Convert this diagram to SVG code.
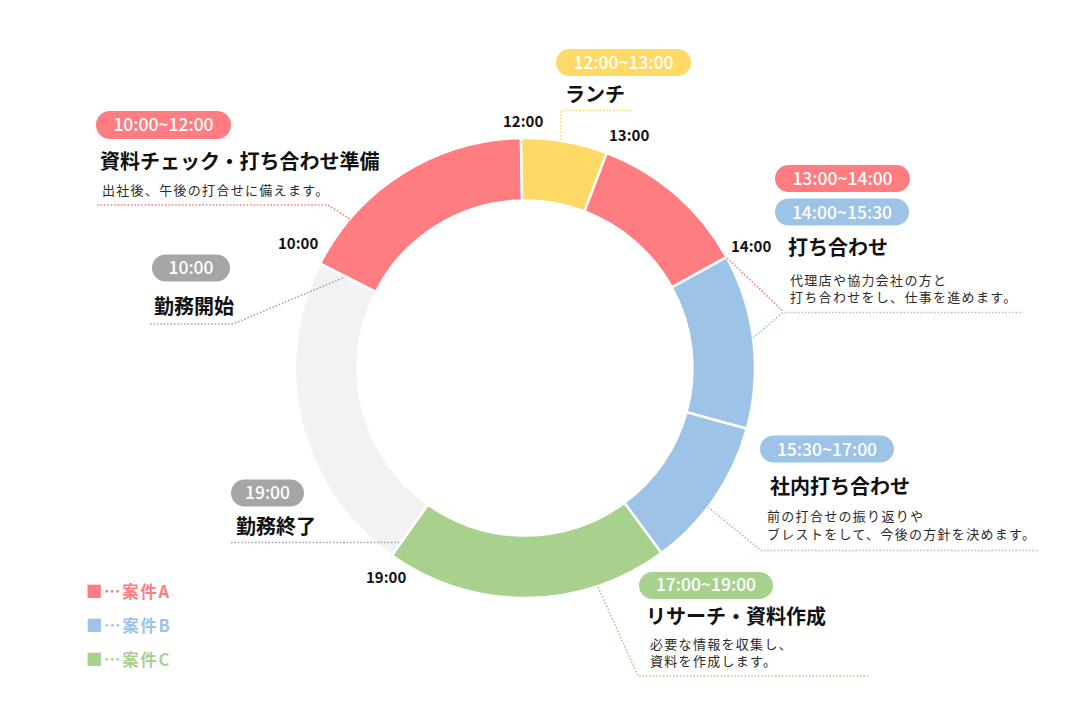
<svg xmlns="http://www.w3.org/2000/svg" width="1082" height="720" viewBox="0 0 1082 720">
<style>
text{font-family:"Noto Sans CJK JP","Noto Sans",sans-serif}
.seg{stroke:#fff;stroke-width:2.5;stroke-linejoin:miter}
.pt{fill:#fff;font-size:17.5px;font-weight:500;text-anchor:middle}
.ttl{fill:#111;font-size:20px;font-weight:700}
.sub{fill:#2b2b2b;font-size:13px;font-weight:400;letter-spacing:1.3px}
.tm{fill:#111;font-size:15px;font-weight:700}
.dl{fill:none;stroke-width:1.6;stroke-dasharray:1.6 1.8}
.lg{font-size:16.5px;font-weight:700;letter-spacing:1.6px}
</style>
<rect width="1082" height="720" fill="#fff"/>
<g id="donut">
<path id="seg-10-12" class="seg" fill="#FF7C80" d="M320.07,263.58 A230,230 0 0 1 520.99,138.03 L522.08,200.53 A167.5,167.5 0 0 0 375.76,291.95 Z"/>
<path id="seg-12-13" class="seg" fill="#FFD966" d="M520.99,138.03 A230,230 0 0 1 606.67,153 L584.48,211.42 A167.5,167.5 0 0 0 522.08,200.53 Z"/>
<path id="seg-13-14" class="seg" fill="#FF7C80" d="M606.67,153 A230,230 0 0 1 726.55,257.19 L671.78,287.3 A167.5,167.5 0 0 0 584.48,211.42 Z"/>
<path id="seg-14-1530" class="seg" fill="#9DC3E6" d="M726.55,257.19 A230,230 0 0 1 746.86,428.7 L686.57,412.2 A167.5,167.5 0 0 0 671.78,287.3 Z"/>
<path id="seg-1530-17" class="seg" fill="#9DC3E6" d="M746.86,428.7 A230,230 0 0 1 661.48,553.13 L624.39,502.82 A167.5,167.5 0 0 0 686.57,412.2 Z"/>
<path id="seg-17-19" class="seg" fill="#A9D18E" d="M661.48,553.13 A230,230 0 0 1 391.76,555.47 L427.97,504.53 A167.5,167.5 0 0 0 624.39,502.82 Z"/>
<path id="seg-19-10" class="seg" fill="#F2F2F2" d="M391.76,555.47 A230,230 0 0 1 320.07,263.58 L375.76,291.95 A167.5,167.5 0 0 0 427.97,504.53 Z"/>
</g>
<g id="connectors">
<polyline class="dl" stroke="#FF7C80" points="97,205 328,205 350,219"/>
<polyline class="dl" stroke="#FFD966" points="561,140 561,110.5 632,110.5"/>
<polyline class="dl" stroke="#FF7C80" points="727,258 783,311"/>
<polyline class="dl" stroke="#9DC3E6" points="753,338 783,312.5 1021,312.5"/>
<polyline class="dl" stroke="#9DC3E6" points="708,507 761,550.5 1038,550.5"/>
<polyline class="dl" stroke="#A9D18E" points="598,587 638,676 868,676"/>
<polyline class="dl" stroke="#A6A6A6" points="150,324 233,324 345,277"/>
<polyline class="dl" stroke="#A6A6A6" points="231,542.5 400,542.5"/>
</g>
<g id="time-labels">
<text class="tm" x="503" y="127">12:00</text>
<text class="tm" x="609" y="141">13:00</text>
<text class="tm" x="278" y="248.5">10:00</text>
<text class="tm" x="731" y="251.7">14:00</text>
<text class="tm" x="366" y="583.3">19:00</text>
</g>
<g id="node-10-12">
<rect x="96" y="111" width="135" height="28" rx="14" fill="#FF7C80"/>
<text class="pt" x="163.5" y="131">10:00~12:00</text>
<text class="ttl" x="100" y="169">資料チェック・打ち合わせ準備</text>
<text class="sub" x="102" y="195">出社後、午後の打合せに備えます。</text>
</g>
<g id="node-12-13">
<rect x="556" y="49" width="135" height="27" rx="13.5" fill="#FFD966"/>
<text class="pt" x="623.5" y="68.5">12:00~13:00</text>
<text class="ttl" x="565" y="102">ランチ</text>
</g>
<g id="node-13-1530">
<rect x="775" y="165" width="135" height="27" rx="13.5" fill="#FF7C80"/>
<text class="pt" x="842.5" y="185">13:00~14:00</text>
<rect x="775" y="198.5" width="134" height="27" rx="13.5" fill="#9DC3E6"/>
<text class="pt" x="842" y="218.5">14:00~15:30</text>
<text class="ttl" x="788" y="255">打ち合わせ</text>
<text class="sub" y="284.5"><tspan x="790">代理店や協力会社の方と</tspan><tspan x="790" dy="17">打ち合わせをし、仕事を進めます。</tspan></text>
</g>
<g id="node-1530-17">
<rect x="760" y="435.5" width="134" height="27" rx="13.5" fill="#9DC3E6"/>
<text class="pt" x="827" y="455.7">15:30~17:00</text>
<text class="ttl" x="770" y="493.5">社内打ち合わせ</text>
<text class="sub" y="521"><tspan x="767">前の打合せの振り返りや</tspan><tspan x="767" dy="18">ブレストをして、今後の方針を決めます。</tspan></text>
</g>
<g id="node-17-19">
<rect x="639" y="572" width="134" height="27" rx="13.5" fill="#A9D18E"/>
<text class="pt" x="706" y="591">17:00~19:00</text>
<text class="ttl" x="646" y="623.5">リサーチ・資料作成</text>
<text class="sub" y="649"><tspan x="650">必要な情報を収集し、</tspan><tspan x="650" dy="17">資料を作成します。</tspan></text>
</g>
<g id="node-start">
<rect x="152" y="254.5" width="78" height="27" rx="13.5" fill="#A6A6A6"/>
<text class="pt" x="191" y="274">10:00</text>
<text class="ttl" x="154" y="313.5">勤務開始</text>
</g>
<g id="node-end">
<rect x="231" y="479.5" width="73" height="27" rx="13.5" fill="#A6A6A6"/>
<text class="pt" x="267.5" y="498.5">19:00</text>
<text class="ttl" x="236" y="533.5">勤務終了</text>
</g>
<g id="legend">
<text class="lg" x="86" y="597.5" fill="#FF7C80">■…案件A</text>
<text class="lg" x="86" y="631.5" fill="#9DC3E6">■…案件B</text>
<text class="lg" x="86" y="665.5" fill="#A9D18E">■…案件C</text>
</g>
</svg>
